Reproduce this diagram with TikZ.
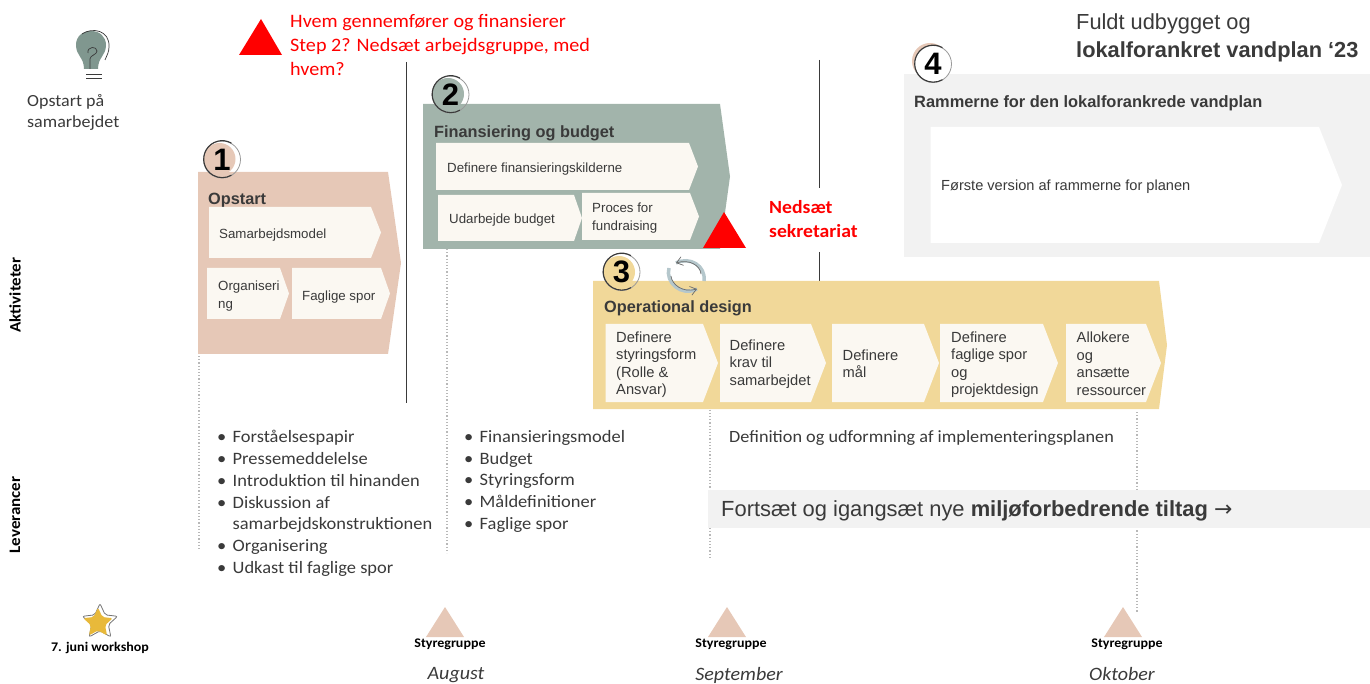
\documentclass[tikz,border=0pt]{standalone}
\usepackage{fontspec}
\setmainfont[FakeStretch=1.06]{Carlito}
\newfontfamily\arial{Liberation Sans}
\newfontfamily\dejavu{DejaVu Sans}
\usetikzlibrary{arrows.meta,shapes.geometric}
\definecolor{peach}{HTML}{E6C8B7}
\definecolor{sage}{HTML}{A2B4AB}
\definecolor{sand}{HTML}{F1D899}
\definecolor{cream}{HTML}{FBF8F2}
\definecolor{pale}{HTML}{F2F2F2}
\definecolor{ink}{HTML}{3A3A3A}
\definecolor{alert}{HTML}{FF0000}
\definecolor{bulb}{HTML}{80978F}
\definecolor{cyc}{HTML}{B5C7CC}
\definecolor{gold}{HTML}{E8B93A}
\tikzset{
 x=1pt,y=-1pt,
 chevtext/.style={font=\arial\fontsize{13.3}{18}\selectfont,text=ink,anchor=west,align=left,inner sep=0pt},
 titletext/.style={font=\arial\bfseries\fontsize{16.3}{18}\selectfont,text=ink,anchor=west,inner sep=0pt},
 numring/.style={circle,draw=black!40,line width=0.8pt,minimum size=37pt,inner sep=0pt,font=\arial\bfseries\fontsize{31}{31}\selectfont},
 darkarc/.style={draw=ink,line width=1.1pt},
 body/.style={font=\fontsize{17.4}{21.85}\selectfont,text=ink,anchor=north west,align=left,inner sep=0pt},
 sidelabel/.style={font=\bfseries\fontsize{16}{18}\selectfont,rotate=90,inner sep=0pt},
 month/.style={font=\itshape\fontsize{18.9}{20}\selectfont,text=ink,inner sep=0pt},
 gate/.style={font=\bfseries\fontsize{13.2}{15}\selectfont,inner sep=0pt},
 guide/.style={dash pattern=on 1.2pt off 2pt,line width=1.2pt,draw=black!28},
 divider/.style={line width=1pt,draw=ink},
 alerttext/.style={text=alert,anchor=north west,align=left,inner sep=0pt},
 ringarc/.style={darkarc},
}
% #1 x0, #2 y0, #3 x1, #4 y1, #5 tip depth, #6 fill
\newcommand{\chev}[6]{\fill[#6] (#1,#2) -- (#3-#5,#2) -- (#3,{(#2+#4)/2}) -- (#3-#5,#4) -- (#1,#4) -- cycle;}
\newcommand{\halfring}[1]{\draw[ringarc] (#1.60) arc[start angle=60,end angle=300,radius=18.5pt];}
\begin{document}
\begin{tikzpicture}
\useasboundingbox (0,0) rectangle (1370,684);
% dividers
\draw[divider] (406,62) coordinate (da) -- (406,403) coordinate (db);
\draw[divider] (819,60) coordinate (dc) -- (819,188) coordinate (dd);
\draw[divider] (819,252) coordinate (de) -- (819,282) coordinate (df);
% dotted guides
\draw[guide] (199,356) coordinate (ga) -- (199,550) coordinate (gb);
\draw[guide] (447,249) coordinate (gc) -- (447,553) coordinate (gd);
\draw[guide] (710,400) coordinate (ge) -- (710,557) coordinate (gf);
\draw[guide] (1137,412) coordinate (gg) -- (1137,612) coordinate (gh);
% bulb
\fill[bulb] (84,69) .. controls (84,57) and (76,56) .. (76,45) .. controls (76,36) and (83,31) .. (91,31) .. controls (100,31) and (106,37) .. (106,45) .. controls (106,56) and (98,57) .. (98,69) -- cycle;
\draw[ink,line width=0.7pt] (90,69) -- (90,59) .. controls (90,55) and (97,55) .. (97,51) .. controls (97,46) and (87,46) .. (88,53);
\draw[ink,line width=0.7pt] (82,34) .. controls (92,27) and (110,30) .. (109,47) .. controls (109,52) and (107,55) .. (105,60);
\draw[ink,line width=0.7pt] (86,74) coordinate (ba) -- (102,74) coordinate (bb);
\draw[ink,line width=0.7pt] (86,78) coordinate (bc) -- (102,78) coordinate (bd);
\node[body,font=\fontsize{17}{21}\selectfont] (start) at (27,94) {Opstart på\\samarbejdet};
% alert triangle and question
\fill[alert] (261,19) -- (282,55) -- (239,55) -- cycle;
\node[alerttext,font=\fontsize{19}{24}\selectfont] (question) at (290,14.5) {Hvem gennemfører og finansierer\\Step 2? Nedsæt arbejdsgruppe, med\\hvem?};
% Step 1
\chev{198}{172}{401}{354}{13}{peach}
\fill[peach] (219.5,159) circle (16);
\node[numring] (n1) at (222,159.5) {1};
\halfring{n1}
\node[titletext] (t1) at (208,201) {Opstart};
\chev{209}{207}{381}{258}{10}{cream}
\chev{207}{268}{289}{319}{9}{cream}
\chev{292}{268}{390}{319}{9}{cream}
\node[chevtext] (c11) at (219,235.5) {Samarbejdsmodel};
\node[chevtext] (c12) at (218,296) {Organiseri\\ng};
\node[chevtext] (c13) at (302,297.5) {Faglige spor};
% Step 2
\chev{423}{104}{730}{249}{10}{sage}
\fill[sage] (448,94) circle (16);
\node[numring] (n2) at (450.5,94.5) {2};
\halfring{n2}
\node[titletext] (t2) at (434,133.5) {Finansiering og budget};
\chev{436}{143}{698}{190}{9}{cream}
\chev{438}{195}{582}{241}{8}{cream}
\chev{582}{193}{699}{240}{9}{cream}
\node[chevtext] (c21) at (447,169.5) {Definere finansieringskilderne};
\node[chevtext] (c22) at (449,220.5) {Udarbejde budget};
\node[chevtext] (c23) at (592,218.5) {Proces for\\fundraising};
\fill[alert] (724,212) -- (746,248) -- (703,248) -- cycle;
\node[alerttext,font=\bfseries\fontsize{18.6}{24}\selectfont] (sek) at (769,200) {Nedsæt\\sekretariat};
% Step 3
\chev{593}{281}{1167}{409}{8}{sand}
\fill[sand] (619,272) circle (16);
\node[numring] (n3) at (621.5,272) {3};
\halfring{n3}
\node[titletext] (t3) at (604,308) {Operational design};
\chev{605.5}{324}{718}{402}{15}{cream}
\chev{720}{324}{826}{402}{15}{cream}
\chev{832}{324}{939}{402}{15}{cream}
\chev{940}{324}{1058}{402}{15}{cream}
\chev{1066}{324}{1161}{402}{15}{cream}
\tikzset{chevb/.style={chevtext,font=\arial\fontsize{14.7}{17.5}\selectfont}}
\node[chevb] (c31) at (616,364.5) {Definere\\styringsform\\(Rolle \&\\Ansvar)};
\node[chevb] (c32) at (729.5,364) {Definere\\krav til\\samarbejdet};
\node[chevb] (c33) at (842.5,363.5) {Definere\\mål};
\node[chevb] (c34) at (951,364.5) {Definere\\faglige spor\\og\\projektdesign};
\node[chevb] (c35) at (1076.5,363.5) {Allokere\\og\\ansætte\\ressourcer};
% cycle arrows
\coordinate (cb) at (676,263); \coordinate (cd) at (697,289);
\draw[cyc,line width=3.5pt] (704,281) .. controls (706,266) and (690,256) .. (cb);
\draw[cyc,line width=3.5pt] (669,268) .. controls (665,282) and (681,297) .. (cd);
\draw[ink!75,line width=0.7pt,-{Straight Barb[length=6pt,width=9pt]}] (701,274) .. controls (700,265) and (689,259) .. (cb);
\draw[ink!75,line width=0.7pt,-{Straight Barb[length=6pt,width=9pt]}] (671,276) .. controls (672,285) and (683,293) .. (cd);
% Step 4
\fill[pale] (904,74) -- (1370,74) -- (1370,257) -- (904,257) -- cycle;
\fill[peach] (930,61) circle (18);
\node[numring,fill=white] (n4) at (933,64) {4};
\halfring{n4}
\node[titletext,font=\arial\bfseries\fontsize{16.4}{18}\selectfont] (t4) at (914,103) {Rammerne for den lokalforankrede vandplan};
\chev{930.5}{127}{1342}{243}{23}{white}
\node[chevtext,font=\arial\fontsize{14.6}{17}\selectfont] (c41) at (941,186.5) {Første version af rammerne for planen};
\node[font=\arial\fontsize{21.8}{28}\selectfont,text=ink,anchor=north west,align=left,inner sep=0pt] (head) at (1076,13.5) {Fuldt udbygget og\\\textbf{lokalforankret vandplan ‘23}};
% side labels
\node[sidelabel] (akt) at (15,295) {Aktiviteter};
\node[sidelabel] (lev) at (15,515) {Leverancer};
% deliverables
\newcommand{\bu}{\makebox[15.5pt][l]{•}}
\node[body] (d1) at (217,430) {\bu Forståelsespapir\\\bu Pressemeddelelse\\\bu Introduktion til hinanden\\\bu Diskussion af\\\makebox[15.5pt]{}samarbejdskonstruktionen\\\bu Organisering\\\bu Udkast til faglige spor};
\node[body] (d2) at (464,430) {\bu Finansieringsmodel\\\bu Budget\\\bu Styringsform\\\bu Måldefinitioner\\\bu Faglige spor};
\node[body,font=\fontsize{17.2}{21.7}\selectfont] (d3) at (729,430) {Definition og udformning af implementeringsplanen};
\fill[pale] (708,490) rectangle (1370,528);
\node[font=\arial\fontsize{21.9}{24}\selectfont,text=ink,anchor=west,inner sep=0pt] (cont) at (721,510.5) {Fortsæt og igangsæt nye \textbf{miljøforbedrende tiltag} {\dejavu→}};
% bottom
\node[star,star points=5,star point ratio=2.1,fill=white,draw=ink!70,line width=0.8pt,minimum size=37pt,inner sep=0pt,rounded corners=2pt] (s0) at (100,622) {};
\node[star,star points=5,star point ratio=2.1,fill=gold,minimum size=31pt,inner sep=0pt,rounded corners=2pt] (s1) at (98,623) {};
\node[gate] (w) at (100,647.5) {7. juni workshop};
\fill[peach] (445,607) -- (464,637) -- (426,637) -- cycle;
\fill[peach] (727,607) -- (746,637) -- (708,637) -- cycle;
\fill[peach] (1123,607) -- (1142,637) -- (1104,637) -- cycle;
\node[gate] (g1) at (450,644) {Styregruppe};
\node[gate] (g2) at (731,644) {Styregruppe};
\node[gate] (g3) at (1127,644) {Styregruppe};
\node[month] (m1) at (456,675.5) {August};
\node[month] (m2) at (739,675.5) {September};
\node[month] (m3) at (1122,674.5) {Oktober};
\end{tikzpicture}
\end{document}
